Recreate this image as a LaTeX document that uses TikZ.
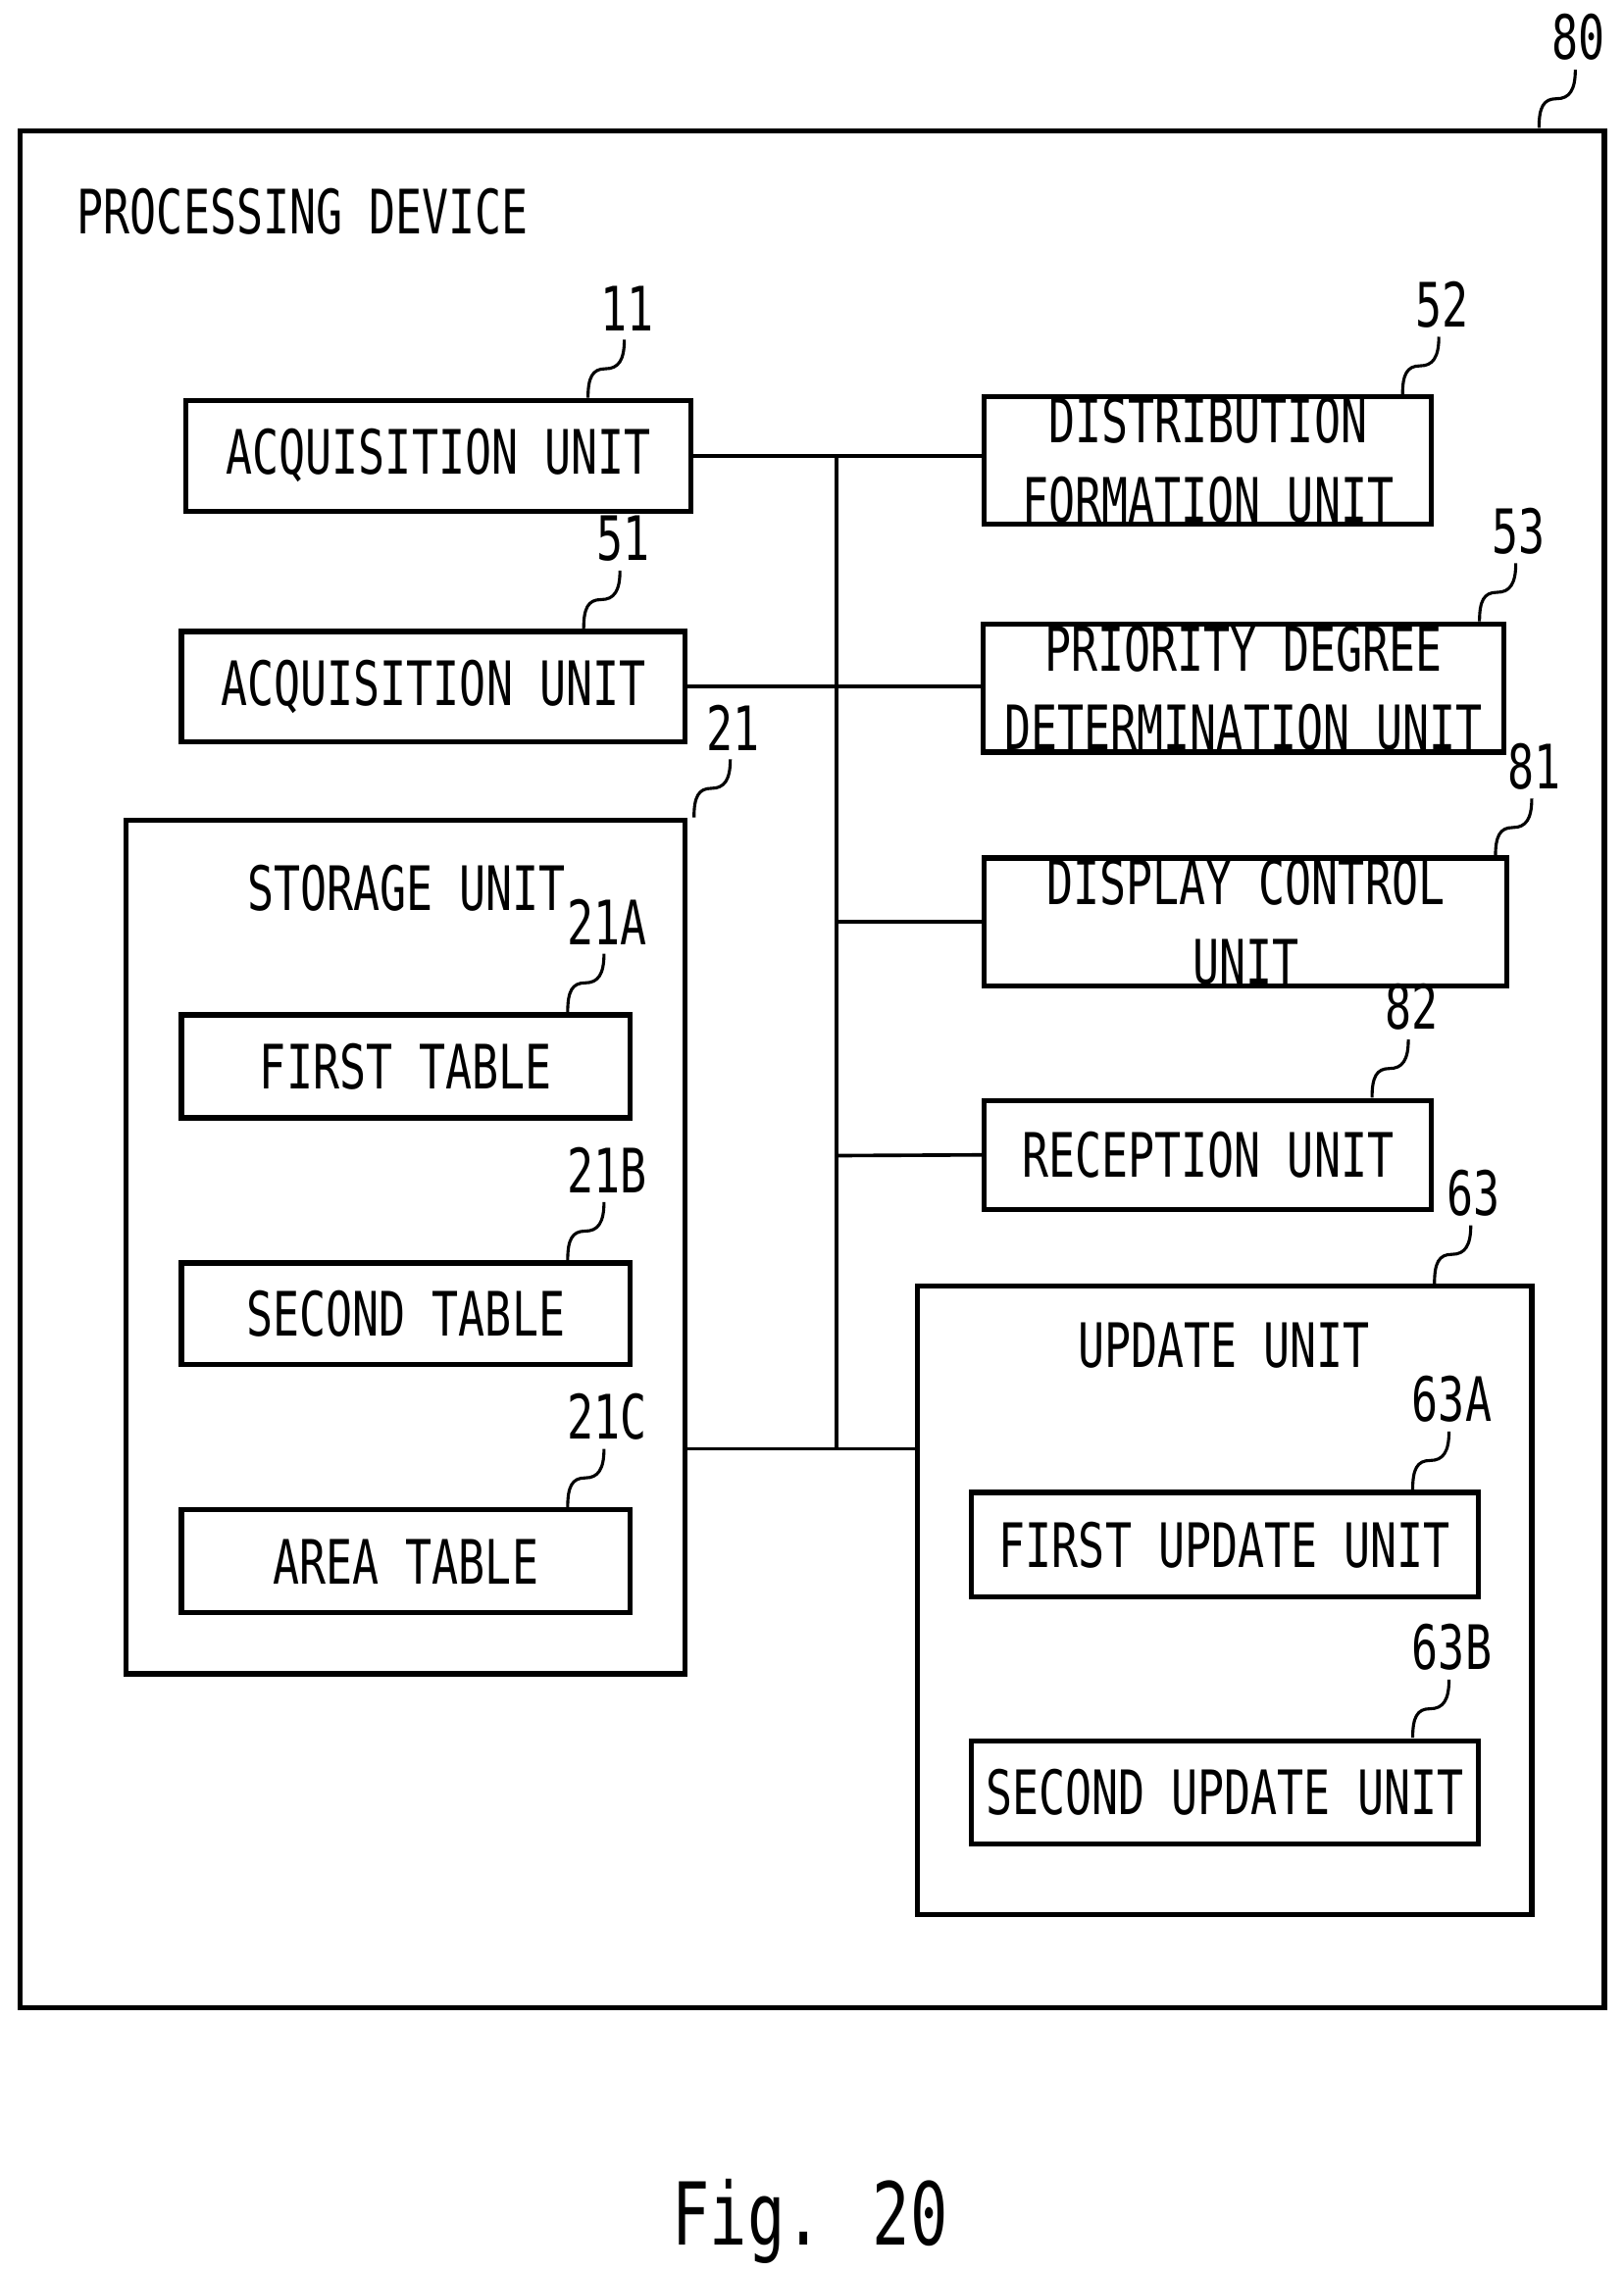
\documentclass[tikz,border=0pt]{standalone}
\usepackage{fontspec}
\setmainfont[FakeStretch=0.72]{DejaVu Sans Mono}
\begin{document}
\begin{tikzpicture}[x=0.1mm,y=-0.1mm,line width=0.7pt,
  box/.style={draw,line width=1pt,align=center,font=\fontsize{12}{15.5}\selectfont,inner sep=0pt},
  txt/.style={font=\fontsize{12}{14}\selectfont,inner sep=0pt},
  sq/.pic={\draw[line width=0.6pt] (0,0) .. controls (0,-14) and (3,-20) .. (12,-20) .. controls (21,-20) and (25,-26) .. (25,-40);}]
\useasboundingbox (0,0) rectangle (1118,1565);
\node[box,minimum width=109.1mm,minimum height=129.3mm] (dev) at (559.5,736.5) {};
\node[txt,anchor=west] (devl) at (52,146) {PROCESSING DEVICE};
\node[box,minimum width=34.8mm,minimum height=7.6mm] (a11) at (302,314) {ACQUISITION UNIT};
\node[box,minimum width=34.7mm,minimum height=7.6mm] (a51) at (298.5,473) {ACQUISITION UNIT};
\node[box,minimum width=38.5mm,minimum height=58.8mm] (st) at (279.5,859) {};
\node[txt] (stl) at (280,612) {STORAGE UNIT};
\node[box,minimum width=30.9mm,minimum height=7.1mm] (t1) at (279.5,734.5) {FIRST TABLE};
\node[box,minimum width=30.9mm,minimum height=7.0mm] (t2) at (279.5,905) {SECOND TABLE};
\node[box,minimum width=30.9mm,minimum height=7.1mm] (t3) at (279.5,1075.5) {AREA TABLE};
\node[box,minimum width=30.8mm,minimum height=8.8mm] (d52) at (832,317) {DISTRIBUTION\\FORMATION UNIT};
\node[box,minimum width=35.9mm,minimum height=8.8mm] (p53) at (856.5,474) {PRIORITY DEGREE\\DETERMINATION UNIT};
\node[box,minimum width=36.0mm,minimum height=8.8mm] (c81) at (858,635) {DISPLAY CONTROL\\UNIT};
\node[box,minimum width=30.8mm,minimum height=7.5mm] (r82) at (832,795.5) {RECEPTION UNIT};
\node[box,minimum width=42.3mm,minimum height=43.3mm] (u63) at (843.5,1102.5) {};
\node[txt] (ul) at (843,927) {UPDATE UNIT};
\node[box,minimum width=34.9mm,minimum height=7.2mm] (u1) at (843.5,1064) {FIRST UPDATE UNIT};
\node[box,minimum width=34.9mm,minimum height=7.1mm] (u2) at (843.5,1234.5) {SECOND UPDATE UNIT};
\node[txt,font=\fontsize{17}{20}\selectfont] (fig) at (558,1530) {Fig. 20};
% bus
\coordinate (btop) at (576,314);
\coordinate (bbot) at (576,998);
\draw (btop) -- (bbot);
\draw (a11.east |- btop) -- (d52.west |- btop);
\draw (a51.east) -- (p53.west |- a51.east);
\draw (576,635) -- (c81.west);
\draw (576,796) -- (r82.west);
\draw (st.east |- bbot) -- (u63.west |- bbot);
% reference labels
\foreach \x/\y/\t in {1060/88/80,405/274/11,402/433/51,478/563/21,391/697/21A,391/868/21B,391/1038/21C,966/272/52,1019/428/53,1030/590/81,945/756/82,988/884/63,973/1026/63A,973/1197/63B}{
  \pic at (\x,\y) {sq};
  \node[txt,anchor=south] (l\t) at (\x+27,\y-45) {\t};
}
\end{tikzpicture}
\end{document}
